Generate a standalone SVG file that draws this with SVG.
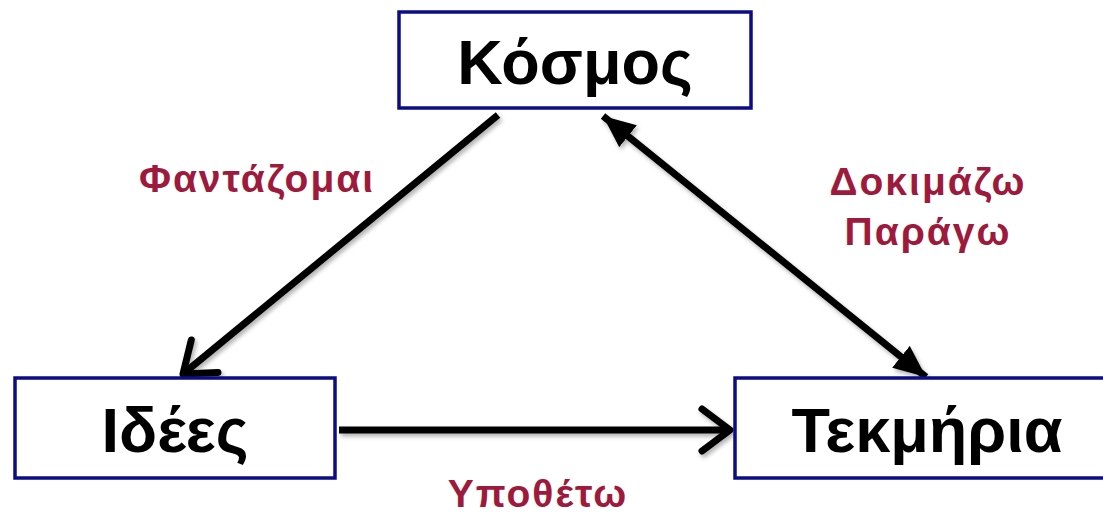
<svg xmlns="http://www.w3.org/2000/svg" width="1103" height="517" viewBox="0 0 1103 517">
<style>
.box{fill:#fff;stroke:#0c0c84;stroke-width:3.5}
.nt{font-family:"Liberation Sans",Arial,sans-serif;font-weight:bold;font-size:63px;fill:#000;text-anchor:middle}
.lb{font-family:"Liberation Sans",Arial,sans-serif;font-weight:bold;font-size:39px;letter-spacing:2px;fill:#9e1a3c;text-anchor:middle}
.ln{stroke:#000;stroke-width:7;fill:none}
</style>
<defs>
<filter id="sh" filterUnits="userSpaceOnUse" x="0" y="0" width="1103" height="517">
<feDropShadow dx="2" dy="3" stdDeviation="2" flood-color="#000" flood-opacity="0.3"/>
</filter>
<marker id="open" markerWidth="8" markerHeight="8" refX="5.5" refY="4" orient="auto" markerUnits="strokeWidth">
<path d="M1.5,1 L5.5,4 L1.5,7" fill="none" stroke="#000" stroke-width="1" stroke-linecap="round" stroke-linejoin="round"/>
</marker>
<marker id="tri" markerWidth="5" markerHeight="4" refX="4.6" refY="2" orient="auto-start-reverse" markerUnits="strokeWidth">
<path d="M0,0 L4.6,2 L0,4 Z" fill="#000"/>
</marker>
</defs>
<g id="connectors" filter="url(#sh)">
<line class="ln" x1="498" y1="115" x2="183" y2="374" marker-end="url(#open)"/>
<line class="ln" x1="339" y1="430" x2="730" y2="430" marker-end="url(#open)"/>
<line class="ln" x1="603" y1="116" x2="926" y2="377" marker-start="url(#tri)" marker-end="url(#tri)"/>
</g>
<g id="kosmos">
<rect class="box" x="399" y="12" width="352" height="96"/>
<text class="nt" x="575" y="84">Κόσμος</text>
</g>
<g id="idees">
<rect class="box" x="15" y="378" width="320" height="100"/>
<text class="nt" x="175" y="452">Ιδέες</text>
</g>
<g id="tekmiria">
<rect class="box" x="735" y="378" width="380" height="100"/>
<text class="nt" x="927" y="452">Τεκμήρια</text>
</g>
<g id="labels">
<text class="lb" x="257" y="192">Φαντάζομαι</text>
<text class="lb" x="928" y="195">Δοκιμάζω</text>
<text class="lb" x="928" y="245">Παράγω</text>
<text class="lb" x="538" y="507">Υποθέτω</text>
</g>
</svg>
